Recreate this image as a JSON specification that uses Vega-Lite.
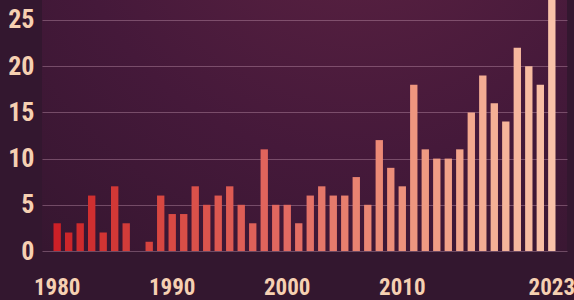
{
  "$schema": "https://vega.github.io/schema/vega-lite/v6.json",
  "width": 525,
  "height": 251,
  "autosize": {"type": "none"},
  "padding": {"left": 42, "top": 0, "right": 7, "bottom": 49},
  "background": "#33172f",
  "config": {
    "view": {
      "stroke": null,
      "fill": {
        "gradient": "radial",
        "x1": 0.6, "y1": 0, "r1": 0,
        "x2": 0.6, "y2": 0, "r2": 1.25,
        "stops": [
          {"offset": 0, "color": "#5f2343"},
          {"offset": 0.45, "color": "#45193a"},
          {"offset": 1, "color": "#2a1428"}
        ]
      }
    },
    "axis": {
      "labelFont": "Roboto Condensed, Liberation Sans Narrow, Roboto, sans-serif",
      "labelFontWeight": "bold",
      "labelColor": "#f6d0b2",
      "domain": false,
      "ticks": false,
      "title": null
    }
  },
  "data": {
    "values": [
      {"year": 1980, "count": 3}, {"year": 1981, "count": 2}, {"year": 1982, "count": 3},
      {"year": 1983, "count": 6}, {"year": 1984, "count": 2}, {"year": 1985, "count": 7},
      {"year": 1986, "count": 3}, {"year": 1987, "count": 0}, {"year": 1988, "count": 1},
      {"year": 1989, "count": 6}, {"year": 1990, "count": 4}, {"year": 1991, "count": 4},
      {"year": 1992, "count": 7}, {"year": 1993, "count": 5}, {"year": 1994, "count": 6},
      {"year": 1995, "count": 7}, {"year": 1996, "count": 5}, {"year": 1997, "count": 3},
      {"year": 1998, "count": 11}, {"year": 1999, "count": 5}, {"year": 2000, "count": 5},
      {"year": 2001, "count": 3}, {"year": 2002, "count": 6}, {"year": 2003, "count": 7},
      {"year": 2004, "count": 6}, {"year": 2005, "count": 6}, {"year": 2006, "count": 8},
      {"year": 2007, "count": 5}, {"year": 2008, "count": 12}, {"year": 2009, "count": 9},
      {"year": 2010, "count": 7}, {"year": 2011, "count": 18}, {"year": 2012, "count": 11},
      {"year": 2013, "count": 10}, {"year": 2014, "count": 10}, {"year": 2015, "count": 11},
      {"year": 2016, "count": 15}, {"year": 2017, "count": 19}, {"year": 2018, "count": 16},
      {"year": 2019, "count": 14}, {"year": 2020, "count": 22}, {"year": 2021, "count": 20},
      {"year": 2022, "count": 18}, {"year": 2023, "count": 28}
    ]
  },
  "mark": {"type": "bar", "clip": true},
  "encoding": {
    "x": {
      "field": "year",
      "type": "ordinal",
      "scale": {"paddingInner": 0.36, "paddingOuter": 1.43},
      "axis": {
        "values": [1980, 1990, 2000, 2010, 2023],
        "labelAngle": 0,
        "labelFontSize": 23,
        "labelPadding": 25,
        "grid": false
      }
    },
    "y": {
      "field": "count",
      "type": "quantitative",
      "scale": {"domain": [0, 27.16], "nice": false},
      "axis": {
        "values": [0, 5, 10, 15, 20, 25],
        "labelFontSize": 26,
        "labelPadding": 8,
        "grid": true,
        "gridColor": "#c89ab4",
        "gridOpacity": 0.4,
        "gridWidth": 1
      }
    },
    "color": {
      "field": "year",
      "type": "quantitative",
      "scale": {
        "domain": [1980, 2000, 2023],
        "range": ["#cc2027", "#e26a62", "#f9c2a9"]
      },
      "legend": null
    }
  }
}
